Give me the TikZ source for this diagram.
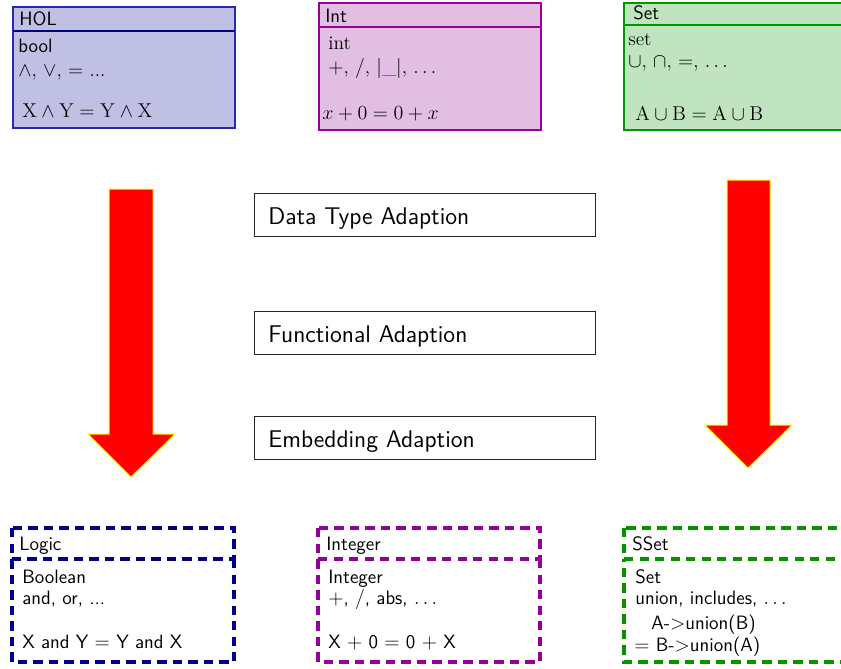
\documentclass[tikz,border=0pt]{standalone}
\usepackage{amsmath}
\definecolor{holfill}{RGB}{192,192,228}
\definecolor{holline}{RGB}{40,40,170}
\definecolor{holdark}{RGB}{0,0,140}
\definecolor{intfill}{RGB}{226,190,226}
\definecolor{intline}{RGB}{150,0,150}
\definecolor{setfill}{RGB}{192,228,192}
\definecolor{setline}{RGB}{0,150,0}
\begin{document}
\begin{tikzpicture}[x=0.6pt,y=-0.6pt,
  txt/.style={anchor=base west, inner sep=0pt, font=\fontsize{11.6}{14}\selectfont},
  bigtxt/.style={anchor=base west, inner sep=0pt, font=\fontsize{12.3}{14}\selectfont},
  stxt/.style={anchor=base west, inner sep=0pt, font=\fontsize{11.6}{14}\selectfont\sffamily},
  adapt/.style={draw=black!85, line width=0.6pt},
  adtxt/.style={anchor=base west, inner sep=0pt, font=\fontsize{14.5}{17}\selectfont\sffamily},
  bigarrow/.style={fill=red, draw=yellow, line width=0.6pt},
  dbox/.style={dash pattern=on 5.5pt off 3.8pt, line width=1.9pt}]
\clip (0,0) rectangle (841,668);
\fill[white] (0,0) rectangle (841,668);

% ---- HOL ----
\filldraw[fill=holfill, draw=holline, line width=0.7pt] (13,7) rectangle (235,128);
\draw[holdark, line width=1.5pt] (13,31) -- (235,31);
\node[stxt] (hol) at (19,25) {HOL};
\node[stxt] (hol1) at (18,52) {bool};
\node[txt] (hol2) at (18,76) {$\wedge$, $\vee$, $=$ ...};
\node[bigtxt] (hol3) at (22,117) {$\mathrm{X}\wedge\mathrm{Y}=\mathrm{Y}\wedge\mathrm{X}$};

% ---- Int ----
\filldraw[fill=intfill, draw=intline, line width=1.3pt] (319,3) rectangle (541,130);
\draw[intline, line width=1.3pt] (319,27) -- (541,27);
\node[stxt] (int) at (325,22) {Int};
\node[txt] (int1) at (328,49) {int};
\node[txt] (int2) at (328,73) {$+$, $/$, $|\_|$, $\dots$};
\node[txt] (int3) at (322,119) {$x+0=0+x$};

% ---- Set ----
\filldraw[fill=setfill, draw=setline, line width=1.3pt] (624,3) rectangle (870,130);
\draw[setline, line width=1.3pt] (624,25) -- (870,25);
\node[stxt] (set) at (633,19) {Set};
\node[txt] (set1) at (628,45) {set};
\node[txt] (set2) at (628,67) {$\cup$, $\cap$, $=$, $\dots$};
\node[bigtxt] (set3) at (635,120) {$\mathrm{A}\cup\mathrm{B}=\mathrm{A}\cup\mathrm{B}$};

% ---- Adaption boxes ----
\draw[adapt] (254,193) rectangle (595,236);
\node[adtxt] (dta) at (268,224) {Data Type Adaption};
\draw[adapt] (254,311) rectangle (595,354);
\node[adtxt] (fa) at (268,342) {Functional Adaption};
\draw[adapt] (254,416) rectangle (595,459);
\node[adtxt] (ea) at (268,447) {Embedding Adaption};

% ---- Big arrows ----
\filldraw[bigarrow] (109,189) -- (153,189) -- (153,434) -- (175,434) -- (131,477)
  -- (88,434) -- (109,434) -- cycle;
\filldraw[bigarrow] (727,180) -- (770,180) -- (770,425) -- (792,425) -- (748,468)
  -- (705,425) -- (727,425) -- cycle;

% ---- Logic ----
\draw[dbox, holdark] (12,528) rectangle (234,559);
\draw[dbox, holdark] (234,559) -- (234,662) -- (12,662) -- (12,559);
\node[stxt] (log) at (19,550) {Logic};
\node[stxt] (log1) at (22,583) {Boolean};
\node[stxt] (log2) at (22,604) {and, or, ...};
\node[stxt] (log3) at (22,648) {X and Y $=$ Y and X};

% ---- Integer ----
\draw[dbox, intline] (318,528) rectangle (540,559);
\draw[dbox, intline] (540,559) -- (540,662) -- (318,662) -- (318,559);
\node[stxt] (ig) at (326,550) {Integer};
\node[stxt] (ig1) at (328,583) {Integer};
\node[stxt] (ig2) at (328,604) {$+$, $/$, abs, $\dots$};
\node[stxt] (ig3) at (328,648) {X $+$ 0 $=$ 0 $+$ X};

% ---- SSet ----
\draw[dbox, setline] (624,528) rectangle (870,559);
\draw[dbox, setline] (870,559) -- (870,662) -- (624,662) -- (624,559);
\node[stxt] (ss) at (632,550) {SSet};
\node[stxt] (ss1) at (635,583) {Set};
\node[stxt] (ss2) at (635,604) {union, includes, $\dots$};
\node[stxt] (ss3) at (651,629) {A-$>$union(B)};
\node[stxt] (ss4) at (634,651) {$=$ B-$>$union(A)};
\end{tikzpicture}
\end{document}
